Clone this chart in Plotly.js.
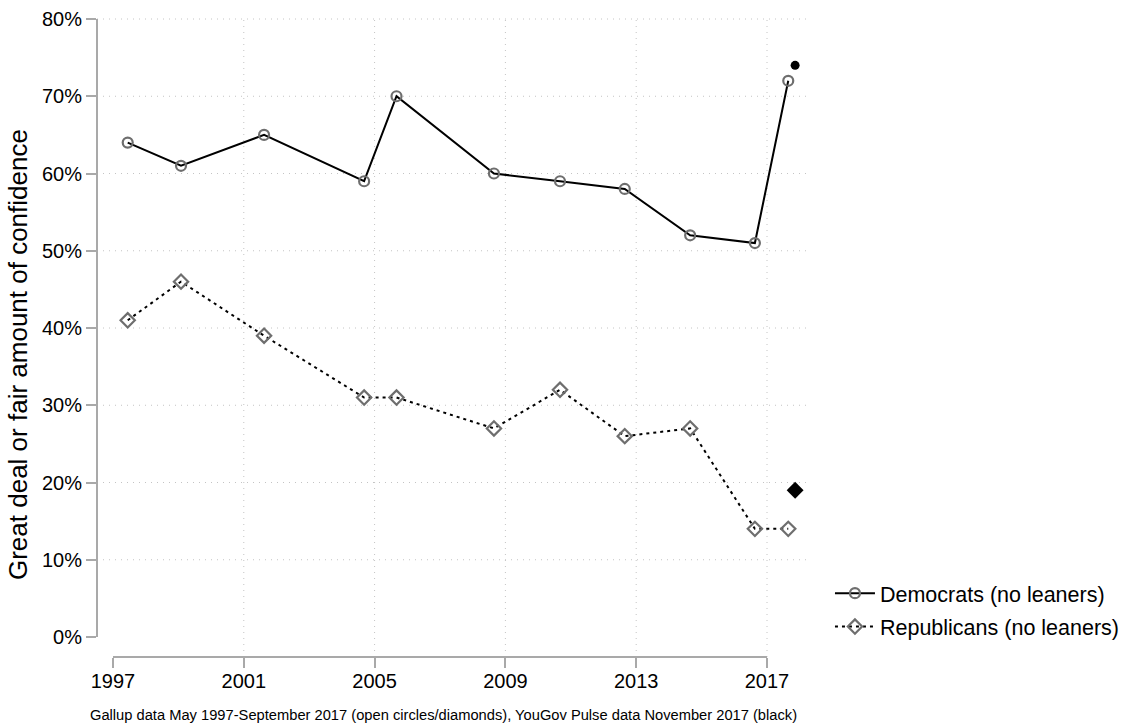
<!DOCTYPE html>
<html>
<head>
<meta charset="utf-8">
<script src="https://cdn.plot.ly/plotly-3.0.1.min.js"></script>
<style>
html,body{margin:0;padding:0;background:#fff;}
#chart{width:1124px;height:723px;}
</style>
</head>
<body>
<div id="chart"></div>
<script>
// Gallup survey dates (decimal years) and shares (%)
const gallupYears = [1997.45, 1999.08, 2001.62, 2004.68, 2005.67, 2008.65, 2010.67, 2012.65, 2014.65, 2016.63, 2017.65];
const democrats   = [64, 61, 65, 59, 70, 60, 59, 58, 52, 51, 72];
const republicans = [41, 46, 39, 31, 31, 27, 32, 26, 27, 14, 14];
// YouGov Pulse November 2017
const yougovYears = [2017.86];
const yougovDem   = [74];
const yougovRep   = [19];
// Axis ticks
const xTicks = [1997, 2001, 2005, 2009, 2013, 2017];
const yTicks = [0, 10, 20, 30, 40, 50, 60, 70, 80];
const yTickText = yTicks.map(v => v + '%');

const FONT = 'Liberation Sans, Arial, Helvetica, sans-serif';
const GRAY = '#6e6e6e';
const AXIS = '#a9a9a9';
const GRID = '#c4c4c4';

const traces = [
  {
    x: gallupYears, y: democrats, type: 'scatter', mode: 'lines+markers',
    name: 'Democrats (no leaners)', legendgroup: 'd',
    line: {color: '#000', width: 2},
    marker: {symbol: 'circle-open', size: 10, color: GRAY, line: {width: 2.2, color: GRAY}}
  },
  {
    x: gallupYears, y: republicans, type: 'scatter', mode: 'lines+markers',
    name: 'Republicans (no leaners)', legendgroup: 'r',
    line: {color: '#000', width: 2, dash: '3px,4px'},
    marker: {symbol: 'diamond-open', size: 11, color: GRAY, line: {width: 2.2, color: GRAY}}
  },
  {
    x: yougovYears, y: yougovDem, type: 'scatter', mode: 'markers', showlegend: false,
    marker: {symbol: 'circle', size: 9, color: '#000'}
  },
  {
    x: yougovYears, y: yougovRep, type: 'scatter', mode: 'markers', showlegend: false,
    marker: {symbol: 'diamond', size: 13, color: '#000'}
  }
];

const shapes = [];
xTicks.slice(1).forEach(v => shapes.push({type: 'line', layer: 'below', xref: 'x', yref: 'paper', x0: v, x1: v, y0: 0, y1: 1,
  line: {color: GRID, width: 1, dash: '1px,5px'}}));
yTicks.slice(1).forEach(v => shapes.push({type: 'line', layer: 'below', xref: 'paper', yref: 'y', x0: 0, x1: 1, y0: v, y1: v,
  line: {color: GRID, width: 1, dash: '1px,5px'}}));
// axis lines spanning the labelled range only
shapes.push({type: 'line', xref: 'paper', yref: 'y', x0: 0, x1: 0, y0: yTicks[0], y1: yTicks[yTicks.length - 1], line: {color: AXIS, width: 2}});
shapes.push({type: 'line', xref: 'x', yref: 'paper', x0: xTicks[0], x1: xTicks[xTicks.length - 1], y0: 0, y1: 0, line: {color: AXIS, width: 2}});

const layout = {
  width: 1124, height: 723,
  margin: {l: 97, r: 314, t: 18, b: 66, autoexpand: false},
  paper_bgcolor: '#fff', plot_bgcolor: '#fff',
  font: {family: FONT, color: '#000', size: 20},
  showlegend: true,
  xaxis: {
    range: [1996.511, 2018.315], tickmode: 'array', tickvals: xTicks, ticktext: xTicks.map(String),
    showgrid: false, zeroline: false, showline: false, automargin: false,
    ticks: 'outside', ticklen: 10, tickwidth: 2, tickcolor: AXIS,
    ticklabelstandoff: -4,
    tickfont: {family: FONT, size: 20, color: '#000'}
  },
  yaxis: {
    range: [-2.59, 80.13], tickmode: 'array', tickvals: yTicks, ticktext: yTickText,
    showgrid: false, zeroline: false, showline: false, automargin: false,
    ticks: 'outside', ticklen: 10, tickwidth: 2, tickcolor: AXIS,
    tickfont: {family: FONT, size: 20, color: '#000'}
  },
  legend: {
    x: 1.028, xanchor: 'left', y: 0.132, yanchor: 'top',
    font: {family: FONT, size: 21.5, color: '#000'},
    bgcolor: 'rgba(0,0,0,0)', tracegroupgap: 2.5, itemwidth: 40
  },
  shapes: shapes,
  annotations: [
    {
      xref: 'paper', yref: 'paper', x: 0.486, y: -0.091, xanchor: 'center', yanchor: 'middle',
      showarrow: false,
      text: 'Gallup data May 1997-September 2017 (open circles/diamonds), YouGov Pulse data November 2017 (black)',
      font: {family: FONT, size: 14.7, color: '#000'}
    },
    {
      xref: 'paper', yref: 'paper', x: 0, xshift: -79, y: 0.4726, xanchor: 'center', yanchor: 'middle',
      textangle: -90, showarrow: false,
      text: 'Great deal or fair amount of confidence',
      font: {family: FONT, size: 26, color: '#000'}
    }
  ]
};

Plotly.newPlot('chart', traces, layout, {displayModeBar: false, staticPlot: true});
</script>
</body>
</html>
